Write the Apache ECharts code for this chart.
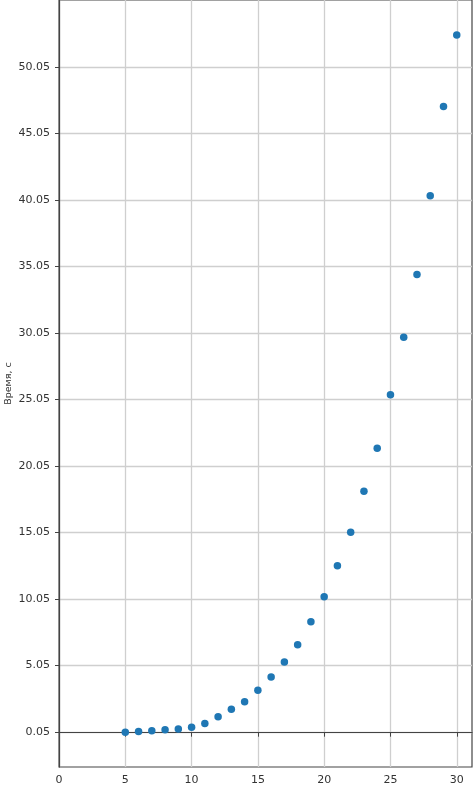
<!DOCTYPE html>
<html>
<head>
<meta charset="utf-8">
<script src="https://cdn.jsdelivr.net/npm/echarts@6/dist/echarts.min.js"></script>
<style>
html,body{margin:0;padding:0;background:#fff;}
#c{width:473px;height:785px;}
</style>
</head>
<body>
<div id="c"></div>
<script>
const xValues = [5,6,7,8,9,10,11,12,13,14,15,16,17,18,19,20,21,22,23,24,25,26,27,28,29,30];
const yValues = [0.03,0.08,0.15,0.22,0.27,0.40,0.70,1.20,1.76,2.33,3.20,4.19,5.31,6.61,8.34,10.22,12.55,15.07,18.15,21.38,25.41,29.73,34.46,40.37,47.09,52.46];
const xTicks = [0,5,10,15,20,25,30];
const yTicks = [0.05,5.05,10.05,15.05,20.05,25.05,30.05,35.05,40.05,45.05,50.05];
const yName = 'Время, с';

const font = 'DejaVu Sans';
const chart = echarts.init(document.getElementById('c'));
chart.setOption({
  animation: false,
  backgroundColor: '#fff',
  grid: {left: 59, right: 1, top: 0, bottom: 18, show: true, borderColor: '#444', borderWidth: 1.2,
    containLabel: false, outerBoundsMode: 'none'},
  xAxis: {
    type: 'value', min: 0, max: 31.15,
    axisLine: {show: true, lineStyle: {color: '#444', width: 1.2}},
    axisTick: {show: true, length: 4, lineStyle: {color: '#444'}, customValues: xTicks},
    axisLabel: {customValues: xTicks, color: '#333', fontFamily: font, fontSize: 11, margin: 8},
    splitLine: {show: true, lineStyle: {color: '#cfcfcf', width: 1.3}}
  },
  yAxis: {
    type: 'value', min: -2.58, max: 55.09,
    name: yName, nameLocation: 'middle', nameGap: 45, nameMoveOverlap: false,
    nameTextStyle: {color: '#333', fontFamily: font, fontSize: 9.5},
    axisLine: {show: true, lineStyle: {color: '#444', width: 1.2}},
    axisTick: {show: true, length: 4, lineStyle: {color: '#444'}, customValues: yTicks},
    axisLabel: {customValues: yTicks, color: '#333', fontFamily: font, fontSize: 11, margin: 9,
      formatter: v => v.toFixed(2)},
    splitLine: {show: true, lineStyle: {color: '#cfcfcf', width: 1.3}}
  },
  series: [{
    type: 'scatter',
    data: xValues.map((x, i) => [x, yValues[i]]),
    symbolSize: 7.5,
    itemStyle: {color: '#1f77b4', opacity: 1}
  }]
});
</script>
</body>
</html>
